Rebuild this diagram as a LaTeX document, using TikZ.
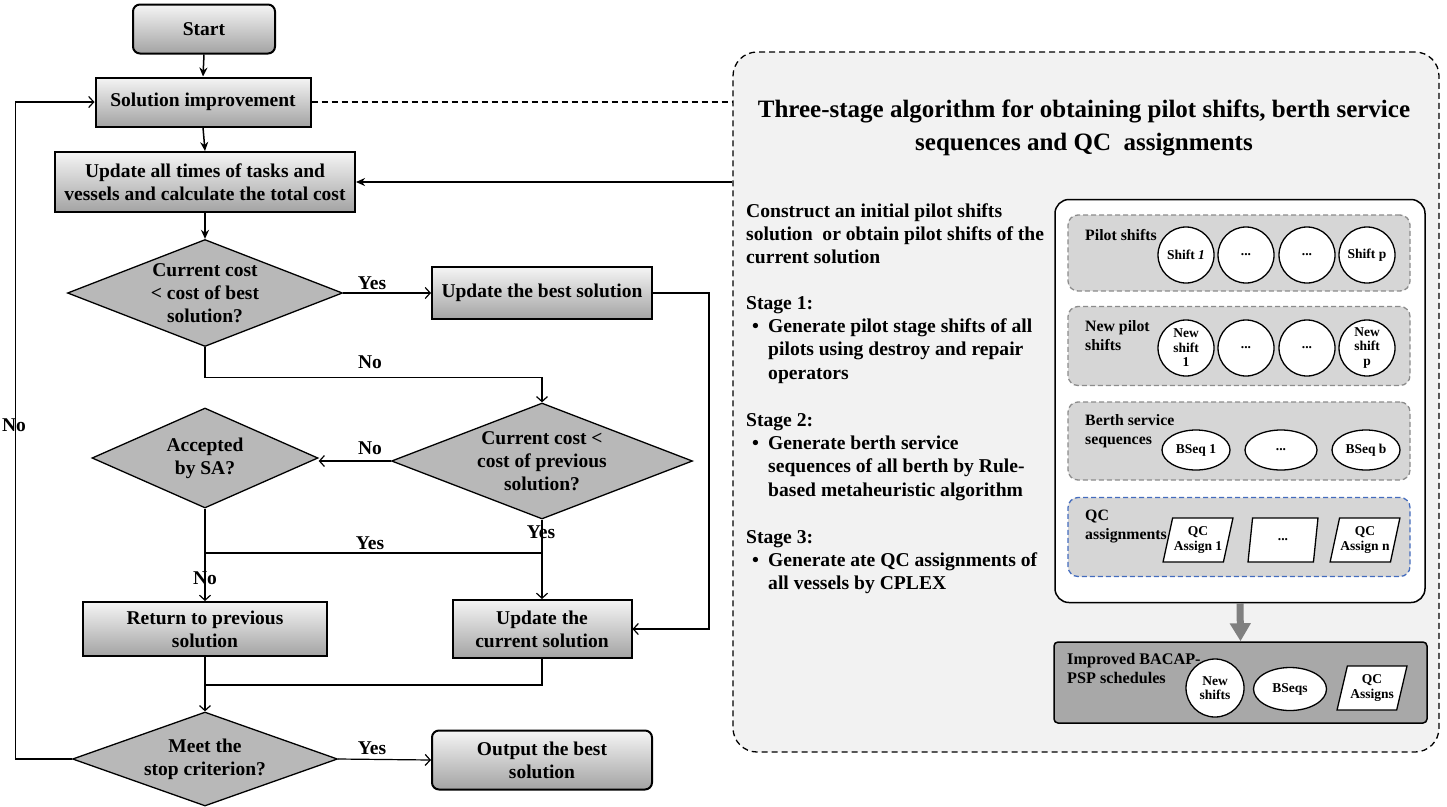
\documentclass[tikz,border=0pt]{standalone}
\usepackage{fontspec}
\setmainfont{Liberation Serif}
\usetikzlibrary{shapes.geometric,arrows.meta}
\definecolor{qcblue}{RGB}{68,108,190}
\newcommand\fcf{\fontsize{19.5}{23}\selectfont\bfseries}
\newcommand\rtf{\fontsize{19.6}{23.3}\selectfont\bfseries}
\newcommand\glf{\fontsize{15.8}{19}\selectfont\bfseries}
\newcommand\smf{\fontsize{13.5}{14.5}\selectfont\bfseries}
\begin{document}
\begin{tikzpicture}[x=1pt,y=-1pt,
  fcbox/.style={draw, line width=2pt, top color=black!4, bottom color=black!36, font=\fcf, align=center, inner sep=0pt},
  fcdia/.style={diamond, draw, line width=1.3pt, fill=black!28, inner sep=0pt},
  dtxt/.style={font=\fcf, align=center},
  lab/.style={font=\fcf, inner sep=0pt},
  ln/.style={line width=1.2pt},
  oarr/.style={ln, -{Straight Barb[length=5pt,width=11pt]}},
  farr/.style={line width=1.5pt, -{Stealth[length=9pt,width=8pt]}},
  grp/.style={draw=black!45, dash pattern=on 5pt off 3pt, line width=1.3pt, fill=black!16, rounded corners=10pt, minimum width=342, inner sep=0pt},
  glab/.style={font=\glf, align=left, anchor=west, inner sep=0pt},
  circ/.style={circle, draw, line width=1.3pt, fill=white, minimum size=56, inner sep=0pt, font=\smf, align=center},
  ell/.style={ellipse, draw, line width=1.3pt, fill=white, minimum width=68, minimum height=40, inner sep=0pt, font=\smf, align=center},
  para/.style={trapezium, trapezium left angle=71, trapezium right angle=109, trapezium stretches=true, draw, line width=1.3pt, fill=white, minimum width=70, minimum height=44, inner sep=0pt, font=\smf, align=center},
  rtxt/.style={font=\rtf, align=left, anchor=north west, inner sep=0pt}
]
\useasboundingbox (0,0) rectangle (1447,806);

% ---------- left flowchart ----------
\node[fcbox, rounded corners=7pt, minimum width=142, minimum height=49] (start) at (204,29) {Start};
\node[fcbox, minimum width=215, minimum height=49] (solimp) at (203,102) {Solution improvement};
\node[fcbox, minimum width=300, minimum height=60] (upd) at (205,182) {Update all times of tasks and\\vessels and calculate the total cost};
\node[fcdia, minimum width=275, minimum height=107] (d1) at (205,293) {};
\node[dtxt] (d1t) at (d1.center) {Current cost\\{<} cost of best\\solution?};
\node[fcbox, minimum width=220, minimum height=52] (best) at (542,293) {Update the best solution};
\node[fcdia, minimum width=301, minimum height=116] (d2) at (542,461) {};
\node[dtxt] (d2t) at (d2.center) {Current cost {<}\\cost of previous\\solution?};
\node[fcdia, minimum width=226, minimum height=100] (sa) at (205,458) {};
\node[dtxt] (sat) at (sa.center) {Accepted\\by SA?};
\node[fcbox, minimum width=244, minimum height=54] (ret) at (205,629) {Return to previous\\solution};
\node[fcbox, minimum width=179, minimum height=58] (cur) at (542,629) {Update the\\current solution};
\node[fcdia, minimum width=265, minimum height=94] (d3) at (205,759) {};
\node[dtxt] (d3t) at (d3.center) {Meet the\\stop criterion?};
\node[fcbox, rounded corners=7pt, minimum width=220, minimum height=59] (out) at (542,760) {Output the best\\solution};

\coordinate (jy) at (0,553);
\coordinate (my) at (0,685);

\draw[farr] (start.south) -- (solimp.north);
\draw[farr] (solimp.south) -- (upd.north);
\draw[farr] (upd.south) -- (d1.north);
\draw[oarr] (d1.east) -- (best.west);
\draw[oarr] (d1.south) -- ++(0,30) -| (d2.north);
\draw[oarr] (d2.west) -- (d2.west -| sa.east);
\draw[oarr] (sa.south) -- (ret.north);
\draw[oarr] (d2.south) -- (cur.north);
\draw[ln] (sa.south |- jy) -- (d2.south |- jy);
\draw[oarr] (best.east) -- ++(56,0) |- (cur.east);
\draw[ln] (cur.south) |- (ret.south |- my);
\draw[oarr] (ret.south) -- (d3.north);
\draw[oarr] (d3.east) -- (out.west);
\draw[oarr] (d3.west) -- ++(-56,0) |- (solimp.west);

\node[lab] (ly1) at (372,283) {Yes};
\node[lab] (ln1) at (370,362) {No};
\node[lab] (ln2) at (370,448) {No};
\node[lab] (ly2) at (370,543) {Yes};
\node[lab] (ly3) at (541,532) {Yes};
\node[lab] (ln3) at (205,578) {No};
\node[lab] (ly4) at (372,748) {Yes};
\node[lab] (ln4) at (14,425) {No};

% ---------- right panel ----------
\node[draw, line width=1.3pt, dash pattern=on 6pt off 4pt, rounded corners=24pt, fill=black!5, minimum width=706, minimum height=700, inner sep=0pt] (cont) at (1086,402) {};
\draw[ln, dash pattern=on 6pt off 4pt] (solimp.east) -- (solimp.east -| cont.west);
\draw[farr] (upd.east -| cont.west) -- (upd.east);

\node[font=\fontsize{25}{33}\selectfont\bfseries, align=center] (title) at (1084,128) {Three-stage algorithm for obtaining pilot shifts, berth service\\sequences and QC\ \ assignments};

\node[rtxt] (intro) at (746,203) {Construct an initial pilot shifts\\solution\ \ or obtain pilot shifts of the\\current solution};
\node[rtxt] (s1) at (746,296) {Stage 1:\\\makebox[22pt][l]{\hspace{6pt}\textbullet}Generate pilot stage shifts of all\\\hspace*{22pt}pilots using destroy and repair\\\hspace*{22pt}operators};
\node[rtxt] (s2) at (746,413) {Stage 2:\\\makebox[22pt][l]{\hspace{6pt}\textbullet}Generate berth service\\\hspace*{22pt}sequences of all berth by Rule-\\\hspace*{22pt}based metaheuristic algorithm};
\node[rtxt] (s3) at (746,530) {Stage 3:\\\makebox[22pt][l]{\hspace{6pt}\textbullet}Generate ate QC assignments of\\\hspace*{22pt}all vessels by CPLEX};

\node[draw, line width=1.5pt, rounded corners=14pt, fill=white, minimum width=370, minimum height=403, inner sep=0pt] (inbox) at (1240,401) {};

\node[grp, minimum height=76] (g1) at (1239,253) {};
\node[grp, minimum height=79] (g2) at (1239,346) {};
\node[grp, minimum height=78] (g3) at (1239,441) {};
\node[grp, draw=qcblue, minimum height=79] (g4) at (1239,537) {};

\node[glab] (g1l) at (1085,235) {Pilot shifts};
\node[glab] (g2l) at (1085,336) {New pilot\\shifts};
\node[glab] (g3l) at (1085,431) {Berth service\\sequences};
\node[glab] (g4l) at (1085,527) {QC\\assignments};

\node[circ] (c11) at (1186,255) {Shift \textit{1}};
\node[circ] (c12) at (1246,255) {...};
\node[circ] (c13) at (1307,255) {...};
\node[circ] (c14) at (1367,255) {Shift p};

\node[circ] (c21) at (1186,348) {New\\shift\\1};
\node[circ] (c22) at (1246,348) {...};
\node[circ] (c23) at (1307,348) {...};
\node[circ] (c24) at (1367,348) {New\\shift\\p};

\node[ell] (e1) at (1196,450) {BSeq 1};
\node[ell, minimum width=72] (e2) at (1281,450) {...};
\node[ell] (e3) at (1366,450) {BSeq b};

\node[para] (p1) at (1198,540) {QC\\Assign 1};
\node[para] (p2) at (1283,540) {...};
\node[para] (p3) at (1365,540) {QC\\Assign n};

\node[draw, line width=1.5pt, rounded corners=4pt, fill=black!34, minimum width=373, minimum height=81, inner sep=0pt] (impr) at (1240.5,682.5) {};
\node[glab, font=\fontsize{16.2}{19}\selectfont\bfseries] (imprl) at (1067,668) {Improved BACAP-\\PSP schedules};
\node[circ, minimum size=58] (i1) at (1215,688) {New\\shifts};
\node[ell, minimum width=73, minimum height=43] (i2) at (1290,689) {BSeqs};
\node[para, minimum height=44] (i3) at (1372,688) {QC\\Assigns};

\draw[line width=7pt, black!50, -{Triangle[width=20pt,length=18pt]}] (inbox.south) -- (impr.north);
\end{tikzpicture}
\end{document}
